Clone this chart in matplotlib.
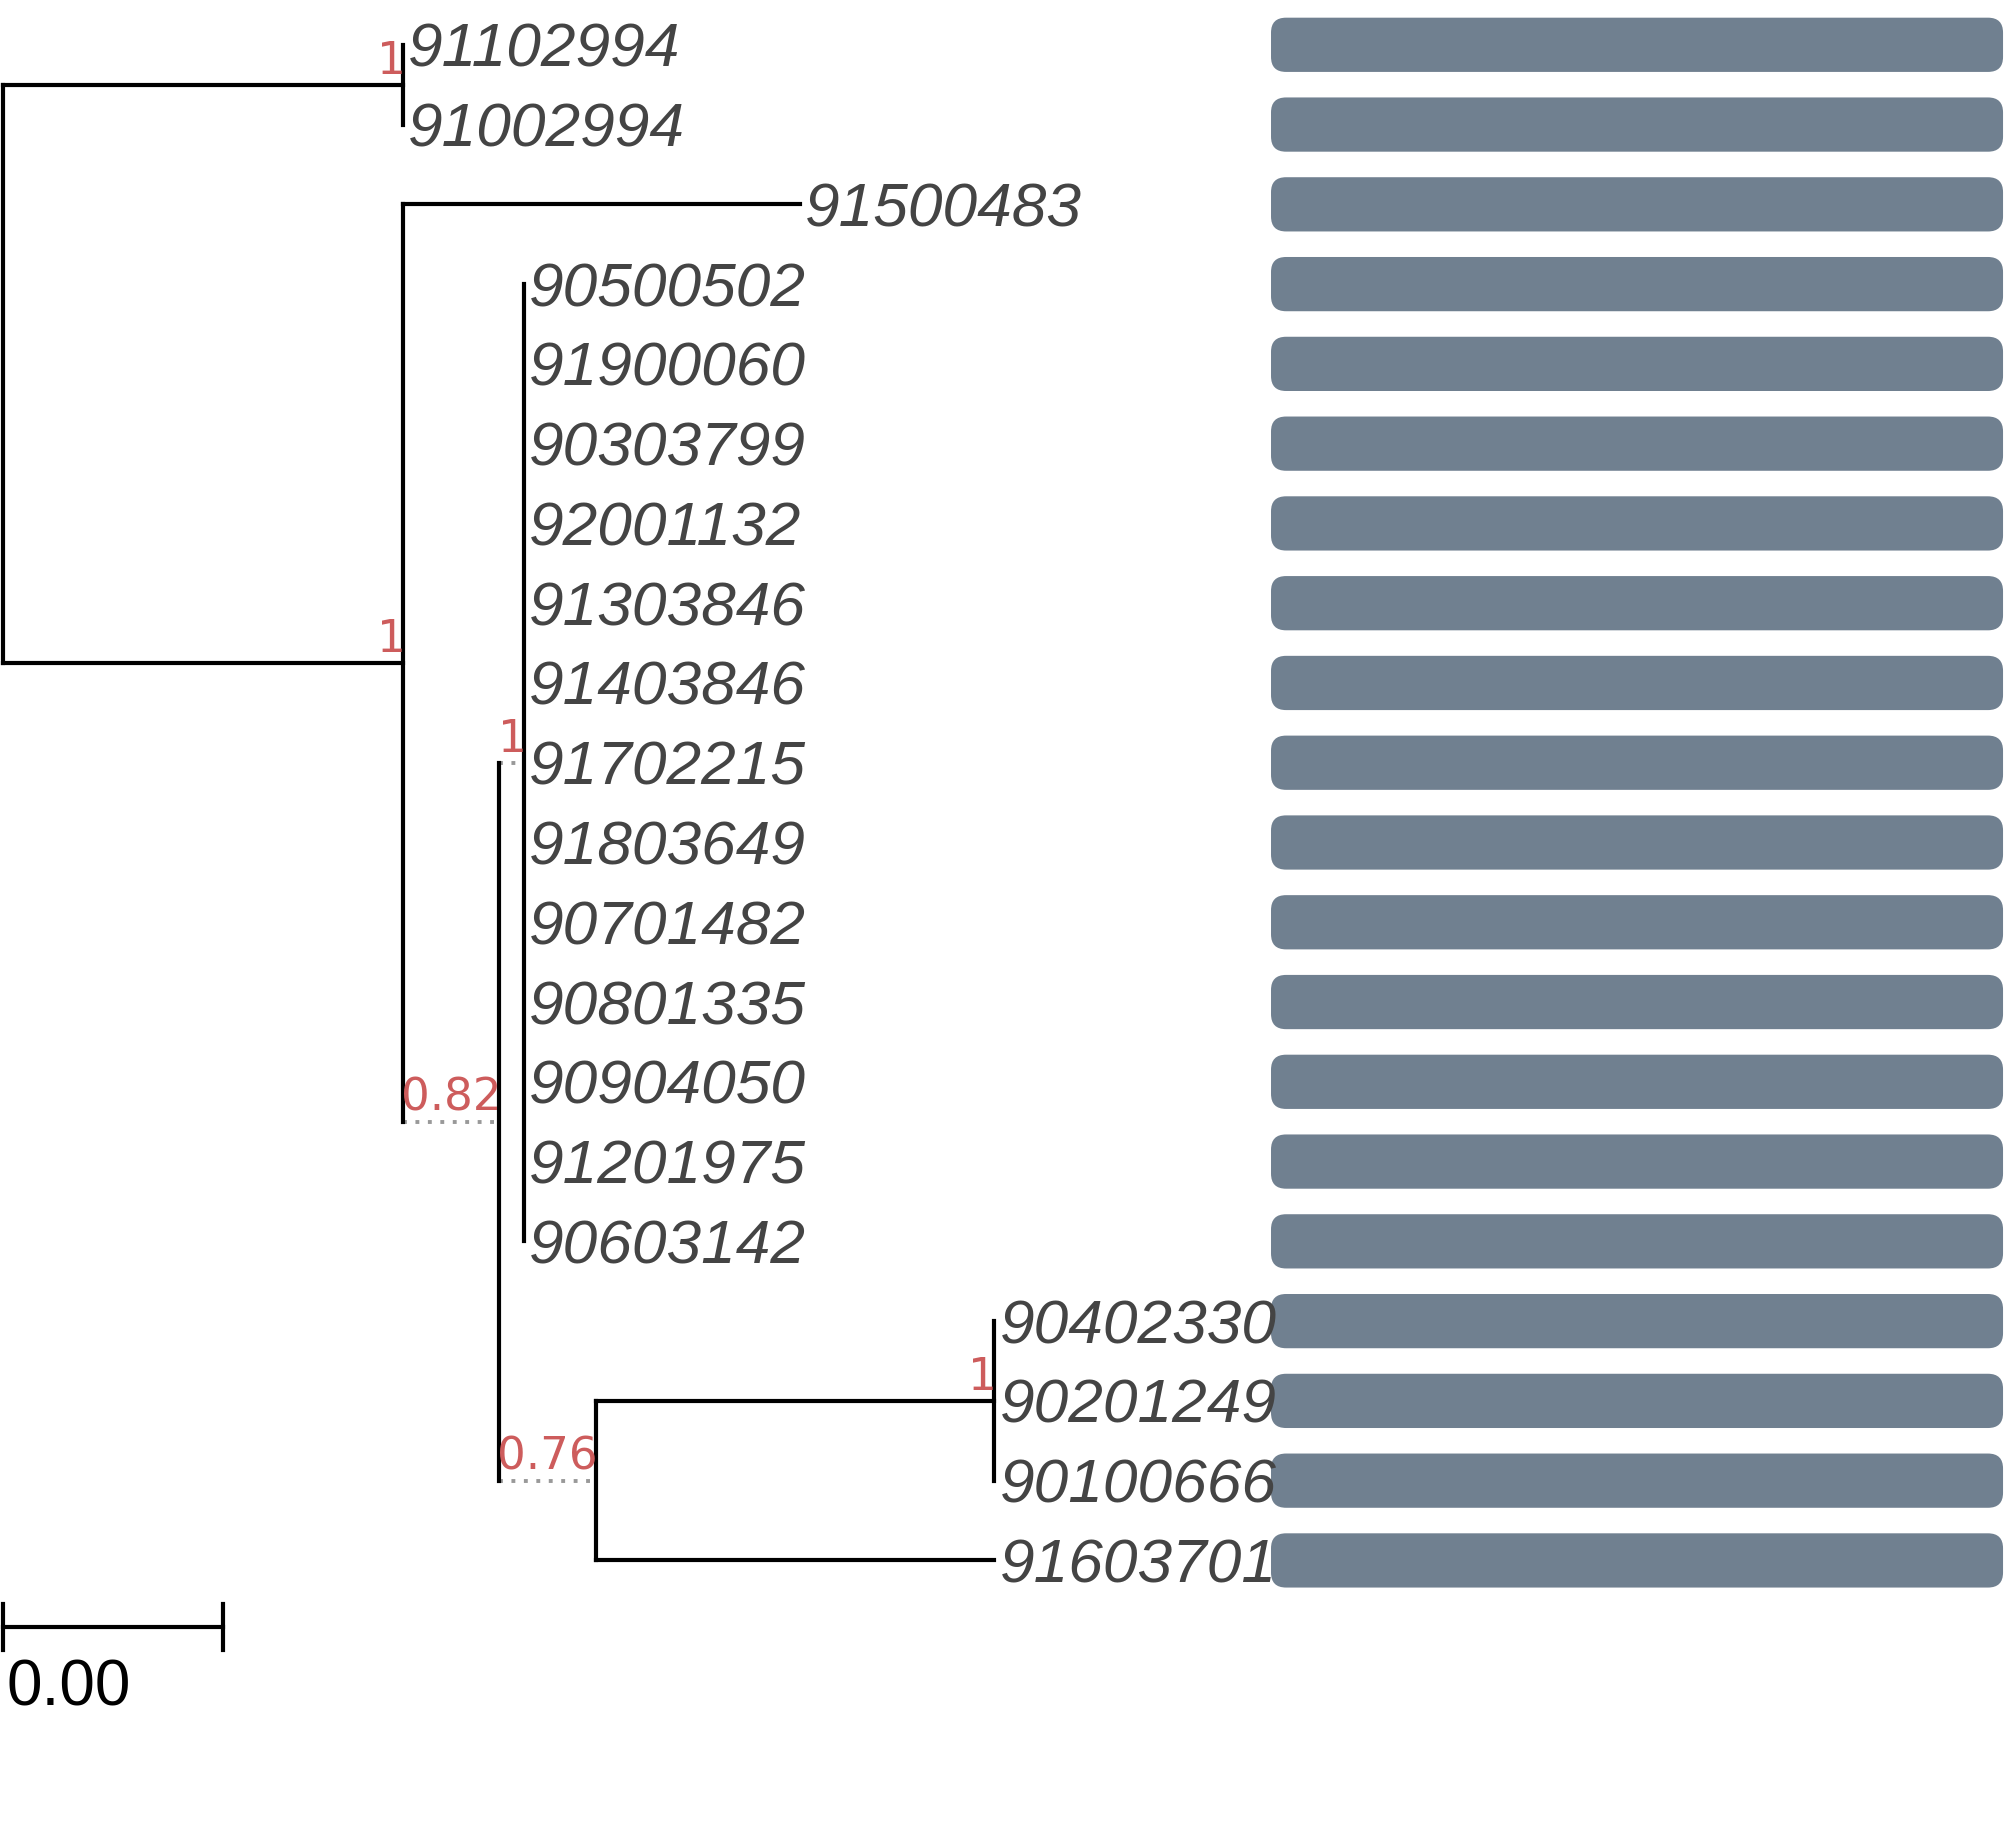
"""Phylogenetic tree with support values and a tip bar panel."""

import matplotlib

matplotlib.use("Agg")
import matplotlib.pyplot as plt
from matplotlib.patches import FancyBboxPatch

# Tip order, top to bottom.
TIPS = [
    "91102994", "91002994", "91500483", "90500502", "91900060",
    "90303799", "92001132", "91303846", "91403846", "91702215",
    "91803649", "90701482", "90801335", "90904050", "91201975",
    "90603142", "90402330", "90201249", "90100666", "91603701",
]

# Internal nodes: name, parent, branch length, support, dotted branch.
NODE_NAMES = ["root", "A", "B", "C", "D", "E", "F"]
NODE_PARENTS = [None, "root", "root", "B", "C", "C", "E"]
NODE_LENGTHS = [0.0, 0.00364, 0.00364, 0.00087, 0.00023, 0.00088, 0.00362]
NODE_SUPPORT = [None, "1", "1", "0.82", "1", "0.76", "1"]
NODE_DOTTED = [False, False, False, True, True, True, False]

# Tip parents and branch lengths (same order as TIPS).
TIP_PARENTS = ["A", "A", "B"] + ["D"] * 13 + ["F", "F", "F", "E"]
TIP_LENGTHS = [0.0, 0.0, 0.0036] + [0.0] * 13 + [0.0, 0.0, 0.0, 0.00362]

# Bar panel: every tip has the same full-length bar.
BAR_START = 0.011523
BAR_END = 0.018173

SCALE_LENGTH = 0.002
SCALE_LABEL = "0.00"

LINE_COLOR = "black"
DOT_COLOR = "#999999"
TIP_COLOR = "#444444"
SUPPORT_COLOR = "#CD5C5C"
BAR_COLOR = "#708090"

# pixel scale helpers (figure is 2007 x 1826 px at dpi 100)
PX_X = 1 / 110080.0
PX_Y = 1 / 79.77

fig = plt.figure(figsize=(20.07, 18.26), dpi=100)
ax = fig.add_axes([0, 0, 1, 1])
ax.set_xlim(-2.56 * PX_X, (2007 - 2.56) * PX_X)
ax.set_ylim((1826 - 44.8) * PX_Y, -44.8 * PX_Y)
ax.axis("off")

# ---- layout the tree
parent = dict(zip(NODE_NAMES, NODE_PARENTS))
parent.update(dict(zip(TIPS, TIP_PARENTS)))
length = dict(zip(NODE_NAMES, NODE_LENGTHS))
length.update(dict(zip(TIPS, TIP_LENGTHS)))
dotted = dict(zip(NODE_NAMES, NODE_DOTTED))
children = {n: [] for n in NODE_NAMES}
for name in NODE_NAMES[1:] + TIPS:
    children[parent[name]].append(name)

xpos = {}


def depth(name):
    if name not in xpos:
        p = parent[name]
        xpos[name] = 0.0 if p is None else depth(p) + length[name]
    return xpos[name]


ypos = {tip: i for i, tip in enumerate(TIPS)}


def node_y(name):
    if name not in ypos:
        ys = [node_y(c) for c in children[name]]
        ypos[name] = (min(ys) + max(ys)) / 2
    return ypos[name]


for name in NODE_NAMES + TIPS:
    depth(name)
    node_y(name)

# horizontal branches
for name in NODE_NAMES[1:] + TIPS:
    p = parent[name]
    x0, x1, y = xpos[p], xpos[name], ypos[name]
    if x1 <= x0:
        continue
    if dotted.get(name, False):
        ax.plot([x0, x1], [y, y], color=DOT_COLOR, lw=2.8,
                linestyle=(0, (1, 2.2)), solid_capstyle="butt", zorder=1)
    else:
        ax.plot([x0, x1], [y, y], color=LINE_COLOR, lw=3.0,
                solid_capstyle="projecting", zorder=2)

# vertical connectors
for name in NODE_NAMES:
    ys = [ypos[c] for c in children[name]]
    ax.plot([xpos[name], xpos[name]], [min(ys), max(ys)], color=LINE_COLOR,
            lw=3.0, solid_capstyle="projecting", zorder=2)

# support labels
for name, sup in zip(NODE_NAMES, NODE_SUPPORT):
    if sup is None:
        continue
    ax.text(xpos[name] + 2 * PX_X, ypos[name] - 11 * PX_Y, sup,
            ha="right", va="baseline", color=SUPPORT_COLOR,
            fontsize=32.5, family="DejaVu Sans", zorder=3)

# tip labels
for tip in TIPS:
    ax.text(xpos[tip] + 5 * PX_X, ypos[tip] + 22 * PX_Y, tip,
            ha="left", va="baseline", color=TIP_COLOR, fontsize=44.8,
            family="Liberation Sans", style="italic", zorder=3)

# bar panel
bar_h = 0.68
for tip in TIPS:
    box = FancyBboxPatch(
        (BAR_START, ypos[tip] - bar_h / 2), BAR_END - BAR_START, bar_h,
        boxstyle=f"round,pad=0,rounding_size={15 * PX_X}",
        mutation_aspect=PX_Y / PX_X,
        facecolor=BAR_COLOR, edgecolor="none", zorder=2,
    )
    ax.add_patch(box)

# scale bar
sy = (1627 - 44.8) * PX_Y
tick = 23 * PX_Y
ax.plot([0, SCALE_LENGTH], [sy, sy], color="black", lw=3.0)
for sx in (0, SCALE_LENGTH):
    ax.plot([sx, sx], [sy - tick, sy + tick], color="black", lw=3.0)
ax.text(4 * PX_X, (1705 - 44.8) * PX_Y, SCALE_LABEL, ha="left",
        va="baseline", color="black", fontsize=46, family="Liberation Sans")

fig.savefig("out.png", dpi=100)
